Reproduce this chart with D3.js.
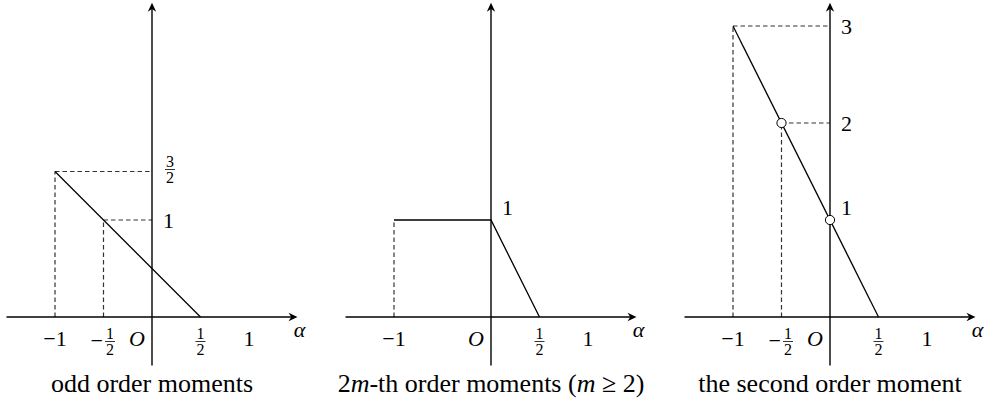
<!DOCTYPE html>
<html>
<head>
<meta charset="utf-8">
<script src="https://cdn.jsdelivr.net/npm/d3@7"></script>
<style>
  body { margin: 0; background: #fff; }
  svg { display: block; }
</style>
</head>
<body>
<svg id="chart" width="984" height="403"></svg>
<script>
// one panel per moment type
const panelNames = ['odd', 'even', 'second']
const captions = [
    [{t: 'odd order moments'}],
    [{t: '2'}, {t: 'm', i: true}, {t: '-th order moments ('}, {t: 'm', i: true}, {t: ' \u2265 2)'}],
    [{t: 'the second order moment'}]
]

// piecewise linear curves, [alpha, value]
const oddCurve = [[-1, 1.5], [0.5, 0]]
const evenCurve = [[-1, 1], [0, 1], [0.5, 0]]
const secondCurve = [[-1, 3], [0.5, 0]]

// dashed guides: vertical ones drop to the alpha axis, horizontal ones run to the value axis
const oddVGuides = [[-1, 1.5], [-0.5, 1]]
const oddHGuides = [[-1, 1.5], [-0.5, 1]]
const evenVGuides = [[-1, 1]]
const evenHGuides = []
const secondVGuides = [[-1, 3], [-0.5, 2]]
const secondHGuides = [[-1, 3], [-0.5, 2]]

// open circles
const oddOpen = []
const evenOpen = []
const secondOpen = [[-0.5, 2], [0, 1]]

// tick labels
const oddXTicks = [-1, -0.5, 0, 0.5, 1]
const oddXLabels = ['\u22121', '\u22121/2', 'O', '1/2', '1']
const evenXTicks = [-1, 0, 0.5, 1]
const evenXLabels = ['\u22121', 'O', '1/2', '1']
const secondXTicks = [-1, -0.5, 0, 0.5, 1]
const secondXLabels = ['\u22121', '\u22121/2', 'O', '1/2', '1']

const oddYTicks = [1.5, 1]
const oddYLabels = ['3/2', '1']
const evenYTicks = [1]
const evenYLabels = ['1']
const secondYTicks = [3, 2, 1]
const secondYLabels = ['3', '2', '1']

const xAxisDomain = [-1.5, 1.5]
const yAxisDomain = [-0.5, 3.24]

const panels = [
    {curve: oddCurve, vg: oddVGuides, hg: oddHGuides, open: oddOpen, xt: oddXTicks, xl: oddXLabels, yt: oddYTicks, yl: oddYLabels},
    {curve: evenCurve, vg: evenVGuides, hg: evenHGuides, open: evenOpen, xt: evenXTicks, xl: evenXLabels, yt: evenYTicks, yl: evenYLabels},
    {curve: secondCurve, vg: secondVGuides, hg: secondHGuides, open: secondOpen, xt: secondXTicks, xl: secondXLabels, yt: secondYTicks, yl: secondYLabels}
]

const FONT = "'Liberation Serif'"
const svg = d3.select('#chart')
const unit = 97
const originX = [152, 491, 830]
const originY = 317

// arrow tip, pointing right, tip at 0,0
const arrowPath = 'M0,0 L-9,-4.2 L-6.2,0 L-9,4.2 Z'

function txt(g, x, y, s, fs){
    return g.append('text').attr('x', x).attr('y', y)
        .attr('font-family', FONT).attr('font-size', fs).attr('fill', '#000').text(s)
}

// label with optional leading minus and a/b fraction, centred at cx
function drawLabel(g, cx, cy, str, fs){
    let neg = str.startsWith('\u2212')
    let body = neg ? str.slice(1) : str
    if (body.includes('/')) {
        const [num, den] = body.split('/')
        const ffs = 16
        const fw = 10
        const minusW = neg ? 13 : 0
        const fx = cx + minusW / 2
        if (neg) {
            txt(g, fx - fw / 2 - 2, cy + 6.5, '\u2212', fs).attr('text-anchor', 'end')
        }
        txt(g, fx, cy - 2.5, num, ffs).attr('text-anchor', 'middle')
        g.append('line').attr('x1', fx - fw / 2).attr('x2', fx + fw / 2)
            .attr('y1', cy).attr('y2', cy).attr('stroke', '#000').attr('stroke-width', 0.8)
        txt(g, fx, cy + 13.5, den, ffs).attr('text-anchor', 'middle')
    } else {
        txt(g, cx, cy + 7.5, str, fs).attr('text-anchor', 'middle')
            .attr('font-style', body === 'O' ? 'italic' : 'normal')
    }
}

panels.forEach((p, i) => {
    const ox = originX[i]
    const x = d3.scaleLinear().domain([0, 1]).range([ox, ox + unit])
    const y = d3.scaleLinear().domain([0, 1]).range([originY, originY - unit])
    const g = svg.append('g').attr('class', panelNames[i])

    // dashed guides
    const dash = g.append('g').attr('stroke', '#333').attr('stroke-width', 1.2)
        .attr('stroke-dasharray', '4.5,3').attr('fill', 'none')
    p.vg.forEach(d => dash.append('line')
        .attr('x1', x(d[0])).attr('x2', x(d[0])).attr('y1', y(0)).attr('y2', y(d[1])))
    p.hg.forEach(d => dash.append('line')
        .attr('x1', x(d[0])).attr('x2', x(0)).attr('y1', y(d[1])).attr('y2', y(d[1])))

    // axes
    const ax = g.append('g').attr('stroke', '#000').attr('stroke-width', 1.4)
    ax.append('line').attr('x1', x(xAxisDomain[0])).attr('x2', x(xAxisDomain[1]) - 3)
        .attr('y1', y(0)).attr('y2', y(0))
    ax.append('line').attr('x1', x(0)).attr('x2', x(0))
        .attr('y1', y(yAxisDomain[0])).attr('y2', y(yAxisDomain[1]) + 3)
    g.append('path').attr('d', arrowPath)
        .attr('transform', `translate(${x(xAxisDomain[1])},${y(0)})`)
    g.append('path').attr('d', arrowPath)
        .attr('transform', `translate(${x(0)},${y(yAxisDomain[1])}) rotate(-90)`)

    // curve
    const line = d3.line().x(d => x(d[0])).y(d => y(d[1]))
    g.append('path').datum(p.curve).attr('d', line)
        .attr('fill', 'none').attr('stroke', '#000').attr('stroke-width', 1.3)

    g.selectAll('circle.open').data(p.open).enter().append('circle')
        .attr('class', 'open')
        .attr('cx', d => x(d[0])).attr('cy', d => y(d[1])).attr('r', 4.6)
        .attr('fill', '#fff').attr('stroke', '#000').attr('stroke-width', 1)

    // alpha tick labels
    p.xt.forEach((v, k) => {
        const lab = p.xl[k]
        const frac = lab.includes('/')
        const lx = lab === 'O' ? x(v) - 15 : x(v)
        drawLabel(g, lx, frac ? 341.5 : 338, lab, 22)
    })
    txt(g, x(xAxisDomain[1]) + 2, 337, '\u03b1', 22)
        .attr('text-anchor', 'middle').attr('font-style', 'italic')

    // value labels; lift the label when the curve passes through that point on the axis
    const at0 = d3.scaleLinear().domain(p.curve.map(d => d[0])).range(p.curve.map(d => d[1]))(0)
    p.yt.forEach((v, k) => {
        const lift = Math.abs(at0 - v) < 1e-9 ? -12.5 : 0
        const frac = p.yl[k].includes('/')
        drawLabel(g, x(0) + (frac ? 18 : 16.5), y(v) + lift - (frac ? 2 : 0), p.yl[k], 22)
    })

    // caption
    const cap = txt(g, x(0), 392, null, 26).attr('text-anchor', 'middle')
    captions[i].forEach(s => cap.append('tspan')
        .attr('font-style', s.i ? 'italic' : 'normal').text(s.t))
})
</script>
</body>
</html>
